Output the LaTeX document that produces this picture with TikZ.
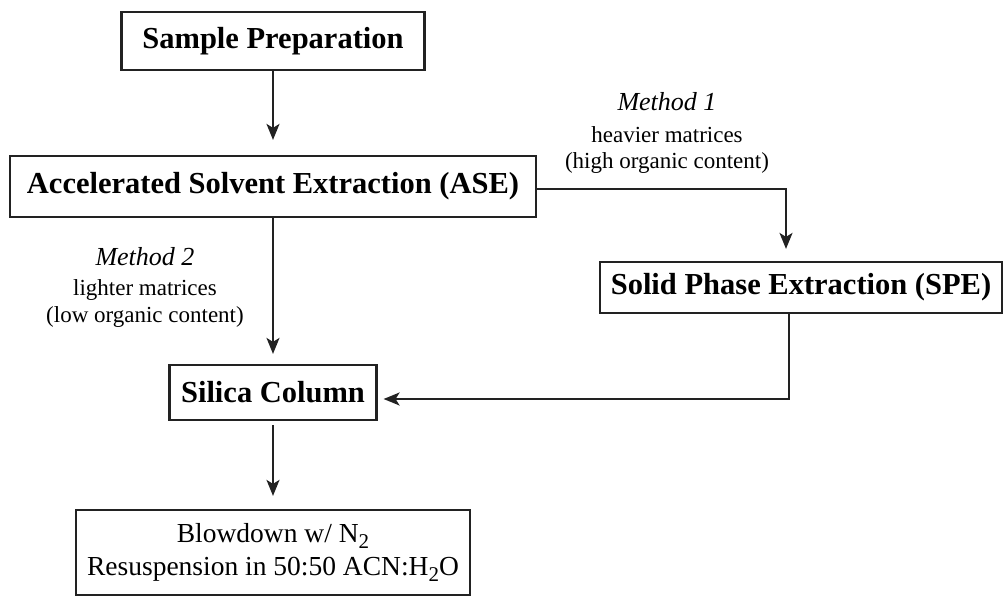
\documentclass[tikz,border=0pt]{standalone}
\usepackage{amsmath, amssymb}
\usepackage{xcolor}
\usepackage{fontspec}
\setmainfont{Liberation Serif}
\usepackage{tikz}
\usetikzlibrary{arrows.meta}

\definecolor{inkgray}{HTML}{222222}
\newcommand{\subtwo}{\raisebox{-0.22em}{\fontsize{21}{21}\selectfont 2}}

\begin{document}
\begin{tikzpicture}[x=1pt, y=-1pt,
  stagebox/.style={draw=inkgray, line width=2.2pt, inner sep=0pt, font=\fontsize{30.5}{36}\selectfont\bfseries},
  flow/.style={draw=inkgray, line width=1.9pt, -{Stealth[length=16pt, width=13pt, inset=4pt]}},
  note/.style={align=center, font=\fontsize{23}{26.5}\selectfont},
  methodlabel/.style={font=\fontsize{26}{30}\selectfont\itshape}]
\useasboundingbox (0,0) rectangle (1004,596);

\node[stagebox, minimum width=303pt, minimum height=58pt] (sample) at (273, 41) {Sample Preparation};
\node[stagebox, minimum width=526pt, minimum height=61pt] (ase) at (273, 186.5) {Accelerated Solvent Extraction (ASE)};
\node[stagebox, minimum width=402pt, minimum height=51pt] (spe) at (801, 287.5) {Solid Phase Extraction (SPE)};
\node[stagebox, minimum width=207pt, minimum height=55pt] (silica) at (273, 392.5) {Silica Column};
\node[stagebox, font=\fontsize{27.5}{32.5}\selectfont, align=center, minimum width=394pt, minimum height=85pt] (blow) at (273, 552.5) {Blowdown w/ N\subtwo\\Resuspension in 50:50 ACN:H\subtwo O};

\node[methodlabel] (m1) at (667, 102) {Method 1};
\node[note] (heavy) at (667, 150) {heavier matrices\\(high organic content)};
\node[methodlabel] (m2) at (145, 257) {Method 2};
\node[note] (light) at (145, 303.5) {lighter matrices\\(low organic content)};

\draw[flow, shorten >=15pt] (sample.south) -- (ase.north);
\draw[flow, shorten >=10pt] (ase.south) -- (silica.north);
\draw[flow, shorten >=12pt] ([yshift=-2.5pt]ase.east) -| ([xshift=-15pt]spe.north);
\draw[flow, shorten >=6pt] ([xshift=-12pt]spe.south) |- ([yshift=-6.5pt]silica.east);
\draw[flow, shorten <=4pt, shorten >=13pt] (silica.south) -- (blow.north);
\end{tikzpicture}
\end{document}
